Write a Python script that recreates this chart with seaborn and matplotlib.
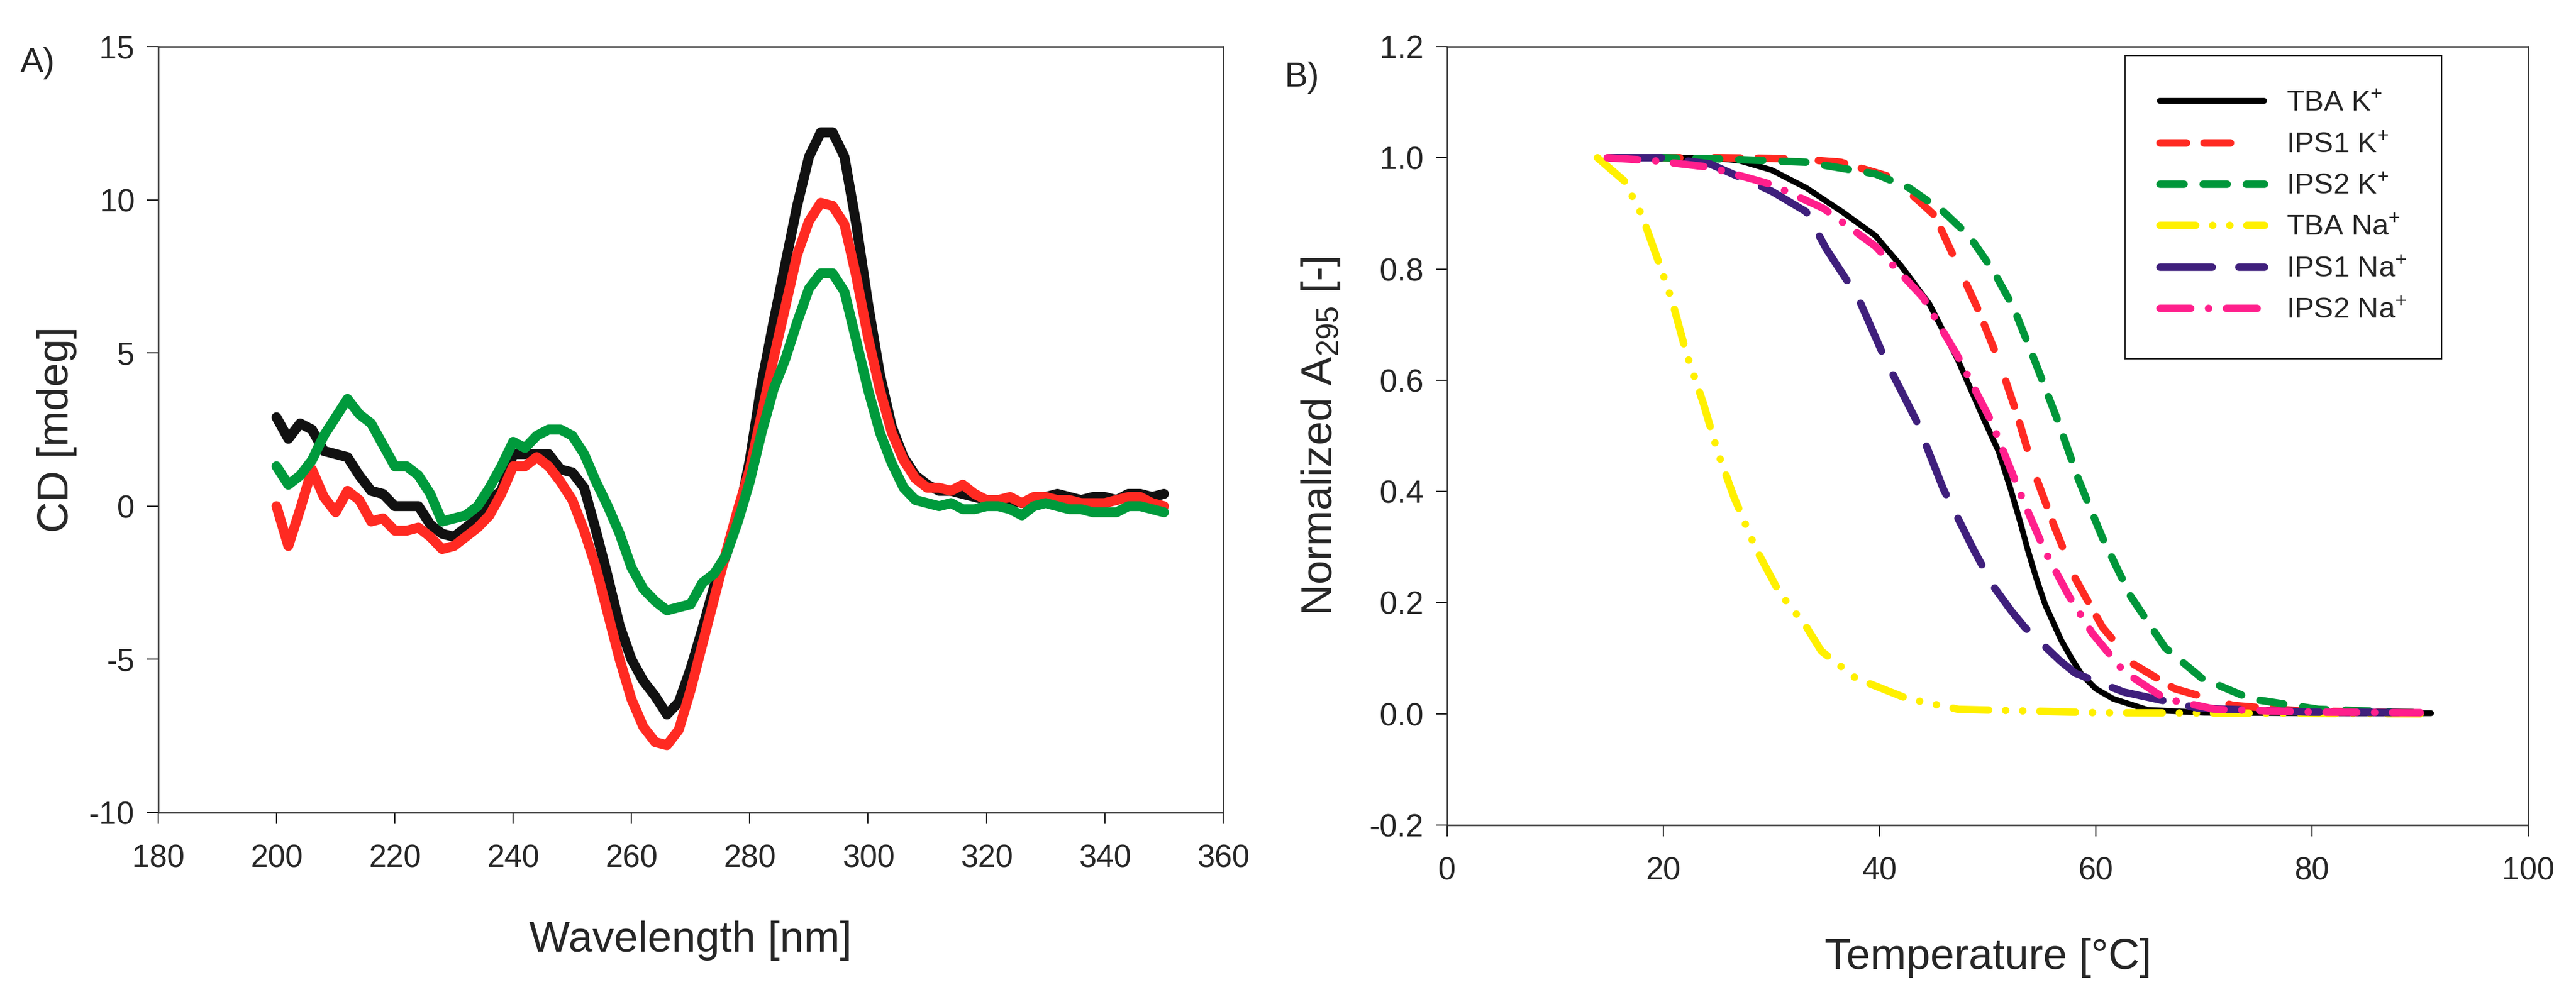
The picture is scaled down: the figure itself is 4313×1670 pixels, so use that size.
import numpy as np
import matplotlib
matplotlib.use("Agg")
import matplotlib.pyplot as plt
import seaborn as sns

sns.set_style("ticks")
plt.rcParams['font.family'] = ['Liberation Sans', 'DejaVu Sans']
plt.rcParams['mathtext.default'] = 'regular'
plt.rcParams['axes.unicode_minus'] = False
plt.rcParams['lines.scale_dashes'] = False

# ---- panel A: CD spectra ----
wavelength = np.arange(200, 352, 2)

cd_black = [2.9, 2.2, 2.7, 2.5, 1.8, 1.7, 1.6, 1.0, 0.5, 0.4,
            0.0, 0.0, 0.0, -0.6, -0.9, -1.0, -0.7, -0.4, 0.2, 0.5,
            1.7, 1.7, 1.7, 1.7, 1.2, 1.1, 0.6, -0.8, -2.3, -3.9,
            -5.0, -5.7, -6.2, -6.8, -6.4, -5.3, -4.0, -2.6, -1.6, -0.4,
            1.5, 4.0, 6.0, 7.9, 9.8, 11.4, 12.2, 12.2, 11.4, 9.2,
            6.6, 4.3, 2.6, 1.6, 1.0, 0.7, 0.5, 0.5, 0.4, 0.3,
            0.2, 0.2, 0.2, 0.1, 0.2, 0.3, 0.4, 0.3, 0.2, 0.3,
            0.3, 0.2, 0.4, 0.4, 0.3, 0.4]

cd_red = [0.0, -1.3, -0.1, 1.2, 0.3, -0.2, 0.5, 0.2, -0.5, -0.4,
          -0.8, -0.8, -0.7, -1.0, -1.4, -1.3, -1.0, -0.7, -0.3, 0.4,
          1.3, 1.3, 1.6, 1.3, 0.8, 0.2, -0.8, -2.0, -3.5, -5.0,
          -6.3, -7.2, -7.7, -7.8, -7.3, -6.0, -4.5, -3.0, -1.5, -0.1,
          1.2, 3.0, 4.8, 6.5, 8.2, 9.3, 9.9, 9.8, 9.2, 7.5,
          5.5, 3.8, 2.4, 1.5, 0.9, 0.6, 0.6, 0.5, 0.7, 0.4,
          0.2, 0.2, 0.3, 0.1, 0.3, 0.3, 0.2, 0.2, 0.1, 0.1,
          0.1, 0.2, 0.3, 0.3, 0.1, 0.0]

cd_green = [1.3, 0.7, 1.0, 1.5, 2.3, 2.9, 3.5, 3.0, 2.7, 2.0,
            1.3, 1.3, 1.0, 0.4, -0.5, -0.4, -0.3, 0.0, 0.6, 1.3,
            2.1, 1.9, 2.3, 2.5, 2.5, 2.3, 1.7, 0.8, 0.0, -0.9,
            -2.0, -2.7, -3.1, -3.4, -3.3, -3.2, -2.5, -2.2, -1.6, -0.5,
            0.8, 2.4, 3.8, 4.8, 6.0, 7.1, 7.6, 7.6, 7.0, 5.4,
            3.8, 2.4, 1.4, 0.6, 0.2, 0.1, 0.0, 0.1, -0.1, -0.1,
            0.0, 0.0, -0.1, -0.3, 0.0, 0.1, 0.0, -0.1, -0.1, -0.2,
            -0.2, -0.2, 0.0, 0.0, -0.1, -0.2]

# ---- panel B: melting curves ----
t_tba_k = [15, 20, 25, 27, 30, 33.2, 36.6, 39.6, 42, 44.6, 47.2, 49.7, 51.0,
           52.1, 53.0, 53.7, 54.5, 55.3, 56.8, 57.8, 58.7, 60.0, 61.6, 64.8, 70, 80, 91]
v_tba_k = [1.0, 1.0, 0.999, 0.995, 0.978, 0.946, 0.902, 0.860, 0.805, 0.737, 0.638, 0.527, 0.472,
           0.405, 0.345, 0.295, 0.243, 0.197, 0.132, 0.098, 0.070, 0.045, 0.027, 0.007, 0.002, 0.001, 0.001]

t_ips1_k = [15, 20, 25, 30, 33, 36.4, 41.1, 43.7, 45.1, 47.0, 49.2, 51.1, 52.7,
            54.3, 56.2, 58.1, 60.6, 63.5, 67.3, 72.7, 79, 90]
v_ips1_k = [1.0, 1.0, 1.0, 0.999, 0.997, 0.992, 0.965, 0.921, 0.896, 0.816, 0.723, 0.631, 0.539,
            0.434, 0.335, 0.243, 0.156, 0.089, 0.045, 0.015, 0.005, 0.002]

t_ips2_k = [15, 20, 25.3, 33.2, 39.6, 42.7, 45.9, 48.3, 50.5, 52.4, 54.3, 56.5,
            58.4, 60.6, 63.2, 66.4, 69.8, 74.3, 80.6, 90]
v_ips2_k = [1.0, 1.0, 0.998, 0.992, 0.971, 0.946, 0.903, 0.859, 0.797, 0.730, 0.637, 0.526,
            0.421, 0.317, 0.212, 0.119, 0.064, 0.027, 0.008, 0.002]

t_tba_na = [13.9, 16.4, 18.0, 19.6, 20.8, 22.1, 23.7, 25.0, 26.5, 28.5, 30.7, 33.2,
            34.6, 37.8, 42.6, 47.3, 60, 75, 90]
v_tba_na = [1.0, 0.958, 0.897, 0.810, 0.743, 0.650, 0.558, 0.472, 0.391, 0.299, 0.219, 0.157,
            0.113, 0.064, 0.027, 0.008, 0.002, 0.001, 0.0]

t_ips1_na = [15, 19.9, 24.3, 30.0, 33.2, 35.1, 38.0, 40.5, 43.4, 45.9, 48.7, 50.5,
             52.1, 53.4, 56.7, 58.1, 62.6, 69.5, 80, 90]
v_ips1_na = [1.0, 1.0, 0.989, 0.940, 0.903, 0.835, 0.749, 0.638, 0.527, 0.404, 0.295, 0.230,
             0.187, 0.156, 0.095, 0.073, 0.039, 0.010, 0.003, 0.002]

t_ips2_na = [14.8, 19, 24.3, 30.0, 34.8, 39.6, 44.0, 47.2, 50.3, 53.4, 55.3, 57.5,
             59.7, 62.6, 66.4, 71.1, 80, 90]
v_ips2_na = [1.0, 0.995, 0.983, 0.952, 0.909, 0.841, 0.749, 0.644, 0.527, 0.378, 0.292, 0.212,
             0.144, 0.076, 0.027, 0.008, 0.003, 0.002]

labels_b = ["TBA K$^{+}$", "IPS1 K$^{+}$", "IPS2 K$^{+}$",
            "TBA Na$^{+}$", "IPS1 Na$^{+}$", "IPS2 Na$^{+}$"]

fig = plt.figure(figsize=(43.13, 16.70), dpi=100)
ax_a = fig.add_axes([0.0614, 0.1850, 0.4134, 0.7683])
ax_b = fig.add_axes([0.5618, 0.1725, 0.4197, 0.7808])

# panel A
for vals, col in [(cd_black, "#111111"), (cd_red, "#ff2a22"), (cd_green, "#009a3c")]:
    sns.lineplot(x=wavelength, y=vals, ax=ax_a, color=col, linewidth=12,
                 solid_capstyle="round", solid_joinstyle="round")

ax_a.set_xlim(180, 360)
ax_a.set_ylim(-10, 15)
ax_a.set_xticks(np.arange(180, 361, 20))
ax_a.set_yticks([-10, -5, 0, 5, 10, 15])
ax_a.set_xlabel("Wavelength [nm]", fontsize=52, va="center")
ax_a.set_ylabel("CD [mdeg]", fontsize=52, va="center")
ax_a.xaxis.set_label_coords(0.5, -0.167)
ax_a.yaxis.set_label_coords(-0.0948, 0.5)

# panel B
styles_b = [
    (t_tba_k, v_tba_k, "#000000", 7, "-"),
    (t_ips1_k, v_ips1_k, "#ff2a22", 9, (0, (32, 21, 32, 41))),
    (t_ips2_k, v_ips2_k, "#00963a", 9, (0, (29, 23))),
    (t_tba_na, v_tba_na, "#fff000", 9, (0, (43, 20.5, 0.1, 20.5, 0.1, 20.5))),
    (t_ips1_na, v_ips1_na, "#3f1f7c", 9, (0, (63, 32))),
    (t_ips2_na, v_ips2_na, "#ff1f8c", 9, (0, (37, 21.5, 0.1, 21.5))),
]
for (tt, vv, col, lw, ls), lab in zip(styles_b, labels_b):
    sns.lineplot(x=tt, y=vv, ax=ax_b, color=col, linewidth=lw, linestyle=ls,
                 dash_capstyle="round", solid_capstyle="round",
                 solid_joinstyle="round", dash_joinstyle="round", label=lab)

ax_b.set_xlim(0, 100)
ax_b.set_ylim(-0.2, 1.2)
ax_b.set_xticks(np.arange(0, 101, 20))
ax_b.set_yticks(np.arange(-0.2, 1.21, 0.2))
ax_b.set_yticklabels([f"{v:.1f}" for v in np.arange(-0.2, 1.21, 0.2)])
ax_b.set_xlabel("Temperature [°C]", fontsize=52, va="center")
ax_b.set_ylabel("Normalized A$_{295}$ [-]", fontsize=52, va="center")
ax_b.xaxis.set_label_coords(0.5, -0.171)
ax_b.yaxis.set_label_coords(-0.1166, 0.5)

leg = ax_b.legend(loc="upper left", bbox_to_anchor=(0.627, 0.9885), fontsize=35,
                  frameon=True, fancybox=False, framealpha=1, edgecolor="#222222",
                  handlelength=3.6, handletextpad=0.76, labelspacing=0.5,
                  borderpad=1.2, borderaxespad=0)
leg.get_frame().set_linewidth(1.6)

for ax in (ax_a, ax_b):
    ax.tick_params(axis="both", which="major", labelsize=38, length=13.5, width=1.5,
                   color="#222222", direction="out", top=False, right=False)
    ax.tick_params(axis="x", pad=24)
    ax.tick_params(axis="y", pad=15)
    for sp in ax.spines.values():
        sp.set_linewidth(1.8)
        sp.set_color("#333333")
        sp.set_visible(True)

fig.text(0.0079, 0.9365, "A)", fontsize=42, va="center", ha="left")
fig.text(0.4985, 0.922, "B)", fontsize=42, va="center", ha="left")

fig.savefig("out.png", dpi=100)
